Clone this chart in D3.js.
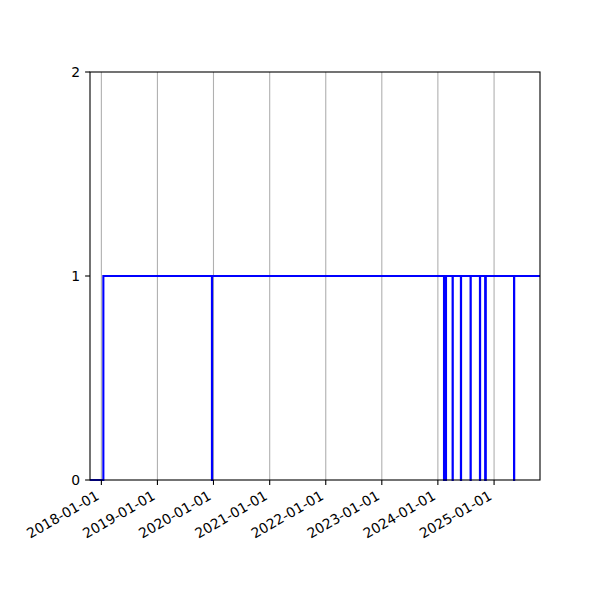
<!DOCTYPE html>
<html>
<head>
<meta charset="utf-8">
<script src="https://cdn.jsdelivr.net/npm/d3@7"></script>
<style>
  body { margin: 0; background: #fff; }
  text { font-family: "DejaVu Sans", sans-serif; }
</style>
</head>
<body>
<script>
// step series: value holds from each date until the next one
var stepDates = ["2017-10-19", "2018-01-14", "2019-12-22", "2019-12-23",
    "2024-02-10", "2024-02-23", "2024-04-06", "2024-04-07",
    "2024-05-30", "2024-05-31", "2024-08-01", "2024-08-02",
    "2024-10-01", "2024-10-02", "2024-11-04", "2024-11-08",
    "2025-05-11", "2025-05-12", "2025-10-27"];
var stepValues = [0, 1, 0, 1, 0, 1, 0, 1, 0, 1, 0, 1, 0, 1, 0, 1, 0, 1, 1];

var xTickLabels = ["2018-01-01", "2019-01-01", "2020-01-01", "2021-01-01",
    "2022-01-01", "2023-01-01", "2024-01-01", "2025-01-01"];
var yTickValues = [0, 1, 2];

var parse = d3.timeParse("%Y-%m-%d");
var data = stepDates.map(function (d, i) {
    return { date: parse(d), value: stepValues[i] };
});

var svg = d3.select("body").append("svg")
    .attr("width", 600)
    .attr("height", 600);

// axes box (note: "top" is reserved on window, so use other names)
var plotLeft = 90, plotRight = 540, plotTop = 72, plotBottom = 480;

var x = d3.scaleTime()
    .domain([parse("2017-10-19"), parse("2025-10-27")])
    .range([plotLeft, plotRight]);
var y = d3.scaleLinear()
    .domain([0, 2])
    .range([plotBottom, plotTop]);

var xTicks = xTickLabels.map(parse);

// vertical grid
svg.append("g").selectAll("line")
    .data(xTicks)
    .enter().append("line")
    .attr("x1", function (d) { return x(d); })
    .attr("x2", function (d) { return x(d); })
    .attr("y1", plotTop)
    .attr("y2", plotBottom)
    .attr("stroke", "#b0b0b0")
    .attr("stroke-width", 1.1);

// step line
var line = d3.line()
    .x(function (d) { return x(d.date); })
    .y(function (d) { return y(d.value); })
    .curve(d3.curveStepAfter);

svg.append("path")
    .datum(data)
    .attr("d", line)
    .attr("fill", "none")
    .attr("stroke", "#0000ff")
    .attr("stroke-width", 2.1);

// frame
svg.append("rect")
    .attr("x", plotLeft)
    .attr("y", plotTop)
    .attr("width", plotRight - plotLeft)
    .attr("height", plotBottom - plotTop)
    .attr("fill", "none")
    .attr("stroke", "#000")
    .attr("stroke-width", 1.1);

// x axis ticks and rotated labels
var xAxis = svg.append("g");
xAxis.selectAll("line")
    .data(xTicks)
    .enter().append("line")
    .attr("x1", function (d) { return x(d); })
    .attr("x2", function (d) { return x(d); })
    .attr("y1", plotBottom)
    .attr("y2", plotBottom + 4.9)
    .attr("stroke", "#000")
    .attr("stroke-width", 1.1);

xAxis.selectAll("text")
    .data(xTicks)
    .enter().append("text")
    .attr("transform", function (d) {
        return "translate(" + (x(d) - 6.5) + "," + (plotBottom + 9.3) + ") rotate(-30)";
    })
    .attr("y", 10.6)
    .attr("text-anchor", "end")
    .attr("font-size", "13.9px")
    .text(function (d, i) { return xTickLabels[i]; });

// y axis
var yAxis = svg.append("g");
yAxis.selectAll("line")
    .data(yTickValues)
    .enter().append("line")
    .attr("x1", plotLeft - 4.9)
    .attr("x2", plotLeft)
    .attr("y1", function (d) { return y(d); })
    .attr("y2", function (d) { return y(d); })
    .attr("stroke", "#000")
    .attr("stroke-width", 1.1);

yAxis.selectAll("text")
    .data(yTickValues)
    .enter().append("text")
    .attr("x", plotLeft - 9.8)
    .attr("y", function (d) { return y(d); })
    .attr("dy", "0.36em")
    .attr("text-anchor", "end")
    .attr("font-size", "13.9px")
    .text(function (d) { return d; });
</script>
</body>
</html>
